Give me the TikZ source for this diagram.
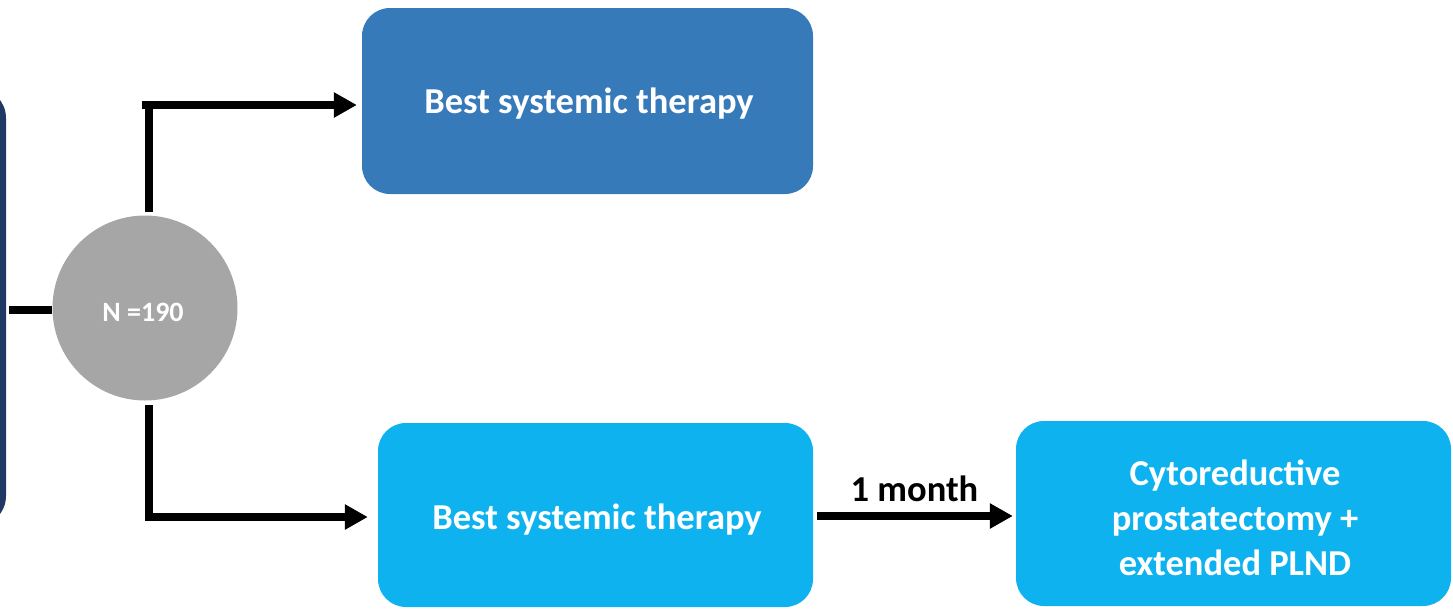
\documentclass[tikz,border=0pt]{standalone}
\usepackage{fontspec}
\setmainfont{Carlito}
\usetikzlibrary{arrows.meta,calc}
\definecolor{navybox}{RGB}{31,56,100}
\definecolor{armblue}{RGB}{55,122,186}
\definecolor{armcyan}{RGB}{14,178,239}
\definecolor{randgrey}{RGB}{166,166,166}
\tikzset{
  armbox/.style={rectangle, rounded corners=28pt, inner sep=0pt},
  armtext/.style={inner sep=0pt, align=center, text=white,
    font=\fontsize{36.5}{45}\selectfont\bfseries},
  flow/.style={line width=8.5pt, draw=black},
  flowarrow/.style={flow, -{Triangle[length=23pt,width=24pt]}},
}
\begin{document}
\begin{tikzpicture}[x=1pt,y=-1pt]
\useasboundingbox (0,0) rectangle (1453,608);
\clip (0,0) rectangle (1453,608);

% eligibility panel, cut by the left edge
\node[rectangle, rounded corners=30pt, fill=navybox, minimum width=80pt,
  minimum height=438pt, inner sep=0pt] (elig) at (-34,307) {};

% randomisation circle
\node[circle, fill=randgrey, minimum size=185pt, inner sep=0pt] (rand) at (145,308) {};
\node[inner sep=0pt, text=white, font=\fontsize{28}{32}\selectfont\bfseries]
  (randtext) at (143,312) {N =190};

% treatment arms
\node[armbox, fill=armblue, minimum width=451pt, minimum height=186pt]
  (bst) at (587.5,101) {};
\node[armtext] (bsttext) at (589,104) {Best systemic therapy};
\node[armbox, fill=armcyan, minimum width=435pt, minimum height=184pt]
  (bstb) at (595.5,515) {};
\node[armtext] (bstbtext) at (597,520) {Best systemic therapy};
\node[armbox, fill=armcyan, minimum width=435pt, minimum height=185pt]
  (surg) at (1233.5,513.5) {};
\node[armtext] (surgtext) at (1235,518) {Cytoreductive\\prostatectomy +\\extended PLND};

% connectors
\coordinate (topcorner) at (149,105);
\coordinate (botcorner) at (149,517);
\draw[flow, shorten <=3pt] (elig.east |- 0,310) -- (rand.west |- 0,310);
\draw[flow] (149,212) -- (topcorner);
\draw[flowarrow, shorten >=5pt] ([xshift=-7pt]topcorner) -- (bst.west |- topcorner);
\draw[flow] (149,405) -- (botcorner);
\draw[flowarrow, shorten >=10pt] ([xshift=-4.25pt]botcorner) -- (bstb.west |- botcorner);
\draw[flowarrow, shorten <=4pt, shorten >=3pt] (bstb.east |- 0,516) -- (surg.west |- 0,516)
  node[midway, above=7pt, font=\fontsize{36.5}{40}\selectfont\bfseries, text=black] {1 month};
\end{tikzpicture}
\end{document}
